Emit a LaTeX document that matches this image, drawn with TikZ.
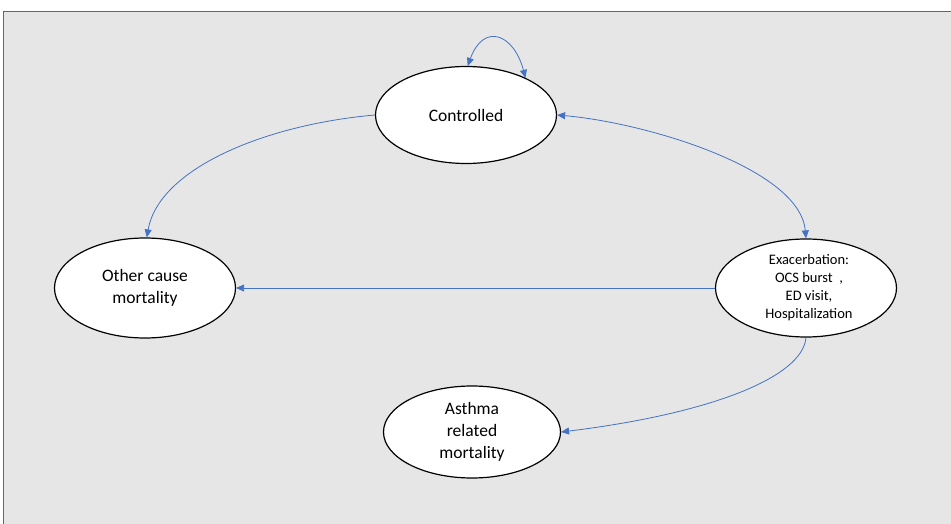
\documentclass[tikz,border=0pt]{standalone}
\usepackage{fontspec}
\setmainfont{Carlito}
\usetikzlibrary{arrows.meta}
\usetikzlibrary{shapes.geometric}
\usetikzlibrary{positioning}
\definecolor{linkblue}{HTML}{4472C4}
\definecolor{panelgray}{HTML}{E6E6E6}
\definecolor{frameblue}{HTML}{4468B4}
\tikzset{> = {Triangle[length=8pt, width=7pt]}, node distance = 1in, on grid,
  x = 1pt, y = 1pt,
  state/.style = {ellipse, draw = black, line width = 1.2pt, fill = white, inner sep = 0pt,
    minimum width = 181pt, minimum height = 97pt, align = center,
    font = \fontsize{17.5}{22}\selectfont},
  link/.style = {->, draw = linkblue, line width = 0.8pt}}

\begin{document}
\begin{tikzpicture}
  \useasboundingbox (0,0) rectangle (951,523);
  % panel
  \begin{scope}
    \clip (0,0) rectangle (951,523);
    \draw [fill = panelgray, draw = frameblue, line width = 1.6pt] (3.5,-20) rectangle (980,511.5);
  \end{scope}
  % nodes
  \node [state] (ctrl) at (466,408) {Controlled};
  \node [state, minimum height = 100pt, below left = 173pt and 321pt of ctrl] (other) {Other cause\\mortality};
  \node [state, minimum height = 98pt, right = 661pt of other, font = \fontsize{14.5}{18}\selectfont] (exac)
    {\hspace{6pt}Exacerbation:\\\hspace{6pt}OCS burst\ \ ,\\\hspace{6pt}ED visit,\\\hspace{6pt}Hospitalization};
  \node [state, minimum width = 177pt, minimum height = 92pt, below right = 317pt and 6pt of ctrl] (asth)
    {Asthma\\related\\mortality};
  % paths
  \draw (ctrl.88) edge [link, <->, out = 70, in = 105, looseness = 2] (ctrl.32);
  \draw (ctrl.west) edge [link, out = 185, in = 80, out distance = 110pt, in distance = 70pt] (other.88);
  \draw (ctrl.east) edge [link, <->, out = -5, in = 95, out distance = 90pt, in distance = 70pt] (exac.north);
  \draw (exac.west) edge [link] (other.east);
  \draw (exac.south) edge [link, out = 265, in = 7, out distance = 40pt, in distance = 150pt] (asth.east);
\end{tikzpicture}
\end{document}
